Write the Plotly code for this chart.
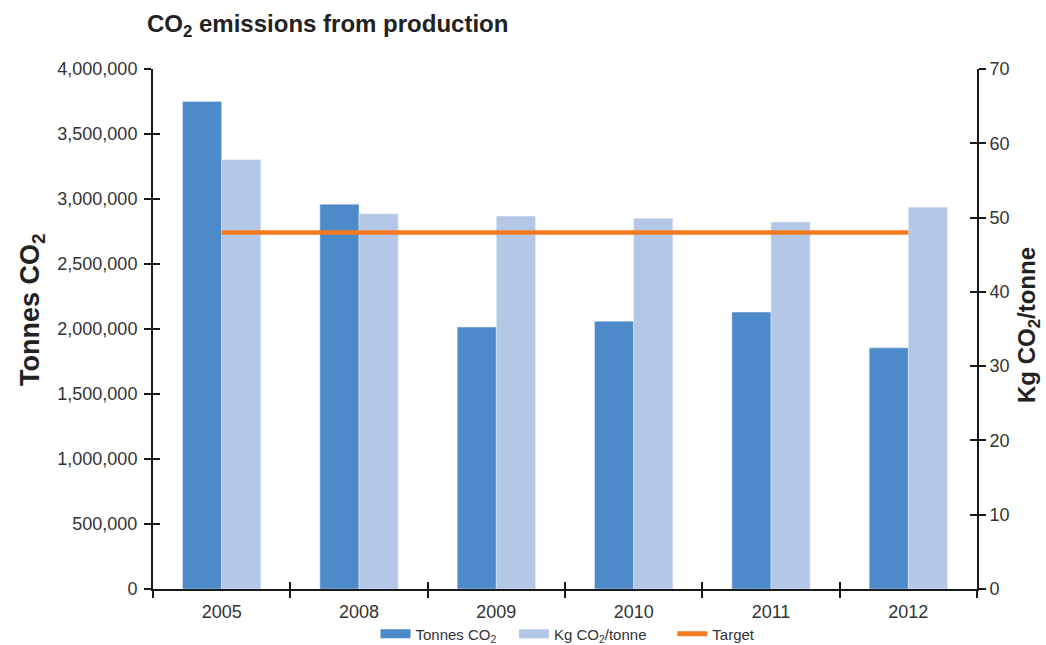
import plotly.graph_objects as go

# Production CO2 data by reporting year
years = ["2005", "2008", "2009", "2010", "2011", "2012"]
tonnes_co2 = [3750000, 2960000, 2015000, 2060000, 2130000, 1855000]
kg_per_tonne = [57.8, 50.5, 50.2, 49.9, 49.4, 51.4]
target_kg = [48, 48, 48, 48, 48, 48]

left_ticks = [0, 500000, 1000000, 1500000, 2000000, 2500000, 3000000, 3500000, 4000000]
right_ticks = [0, 10, 20, 30, 40, 50, 60, 70]

DARK = "#4d8ac9"
LIGHT = "#b4c7e7"
ORANGE = "#f47a22"
TXT = "#333333"
HEAD = "#222222"
FONT = "Liberation Sans, Arial, sans-serif"
PAD = "&nbsp;&nbsp;&nbsp;"

fig = go.Figure()

fig.add_trace(go.Bar(x=years, y=tonnes_co2, marker_color=DARK, showlegend=False,
                     offsetgroup="a", yaxis="y", name="Tonnes CO<sub>2</sub>"))
fig.add_trace(go.Bar(x=years, y=kg_per_tonne, marker_color=LIGHT, showlegend=False,
                     offsetgroup="b", yaxis="y2", name="Kg CO<sub>2</sub>/tonne"))
fig.add_trace(go.Scatter(x=years, y=target_kg, mode="lines", yaxis="y2",
                         line=dict(color=ORANGE, width=4.5), showlegend=False, name="Target"))

# Legend swatches drawn as wide strokes
for name, col, w in [("Tonnes CO<sub>2</sub>" + PAD, DARK, 9),
                     ("Kg CO<sub>2</sub>/tonne" + PAD + "&nbsp;&nbsp;", LIGHT, 9),
                     ("Target", ORANGE, 5)]:
    fig.add_trace(go.Scatter(x=[None], y=[None], mode="lines", name=name,
                             line=dict(color=col, width=w), yaxis="y2"))

# Invisible traces that anchor the overlay axes carrying the inner half of each tick
fig.add_trace(go.Scatter(x=[0], y=[0], xaxis="x2", yaxis="y", mode="markers",
                         marker=dict(opacity=0), showlegend=False, hoverinfo="skip"))
fig.add_trace(go.Scatter(x=[years[0]], y=[0], yaxis="y3", mode="markers",
                         marker=dict(opacity=0), showlegend=False, hoverinfo="skip"))
fig.add_trace(go.Scatter(x=[years[0]], y=[0], yaxis="y4", mode="markers",
                         marker=dict(opacity=0), showlegend=False, hoverinfo="skip"))

axis_common = dict(showline=True, linecolor="#1a1a1a", linewidth=2, showgrid=False,
                   zeroline=False, tickcolor="#1a1a1a", tickwidth=2, ticklen=7)

fig.update_layout(
    width=1046, height=645,
    margin=dict(l=153, r=69, t=69, b=56, autoexpand=False),
    paper_bgcolor="white", plot_bgcolor="white",
    font=dict(family=FONT, color=TXT, size=17),
    barmode="group", bargap=0.43, bargroupgap=0,
    title=dict(text="<b>CO<sub>2</sub> emissions from production</b>",
               x=147 / 1046, xanchor="left", xref="container",
               y=1 - 24 / 645, yanchor="middle", yref="container",
               font=dict(size=24, color=HEAD, family=FONT)),
    xaxis=dict(type="category", ticks="outside", tickson="boundaries",
               range=[-0.5, 5.5], tickfont=dict(size=18), ticklabelstandoff=5,
               **axis_common),
    xaxis2=dict(overlaying="x", range=[-0.5, 5.5], tickmode="array",
                tickvals=[-0.5, 0.5, 1.5, 2.5, 3.5, 4.5, 5.5], ticks="inside",
                showticklabels=False, side="bottom", anchor="y", **axis_common),
    yaxis=dict(range=[0, 4000000], tickmode="array", tickvals=left_ticks,
               tickformat=",d", ticks="outside", tickfont=dict(size=18),
               ticklabelstandoff=3, **axis_common),
    yaxis2=dict(range=[0, 70], overlaying="y", side="right", tickmode="array",
                tickvals=right_ticks, ticks="outside", tickfont=dict(size=18),
                **axis_common),
    yaxis3=dict(range=[0, 4000000], overlaying="y", side="left", tickmode="array",
                tickvals=left_ticks, ticks="inside", showticklabels=False, **axis_common),
    yaxis4=dict(range=[0, 70], overlaying="y", side="right", tickmode="array",
                tickvals=right_ticks, ticks="inside", showticklabels=False, **axis_common),
    legend=dict(orientation="h", x=(568 - 153) / 824, xanchor="center",
                y=-(634 - 589) / 520, yanchor="middle",
                font=dict(size=15, color=TXT), itemwidth=30,
                bgcolor="rgba(0,0,0,0)"),
    showlegend=True,
)

# Axis titles placed as rotated annotations
fig.add_annotation(text="<b>Tonnes CO<sub>2</sub></b>", textangle=-90,
                   xref="paper", yref="paper", x=-(153 - 32) / 824, y=(589 - 310) / 520,
                   xanchor="center", yanchor="middle", showarrow=False,
                   font=dict(size=27, color=HEAD, family=FONT))
fig.add_annotation(text="<b>Kg CO<sub>2</sub>/tonne</b>", textangle=-90,
                   xref="paper", yref="paper", x=1 + (1028 - 977) / 824, y=(589 - 325) / 520,
                   xanchor="center", yanchor="middle", showarrow=False,
                   font=dict(size=24, color=HEAD, family=FONT))

fig.write_html("out.html")
